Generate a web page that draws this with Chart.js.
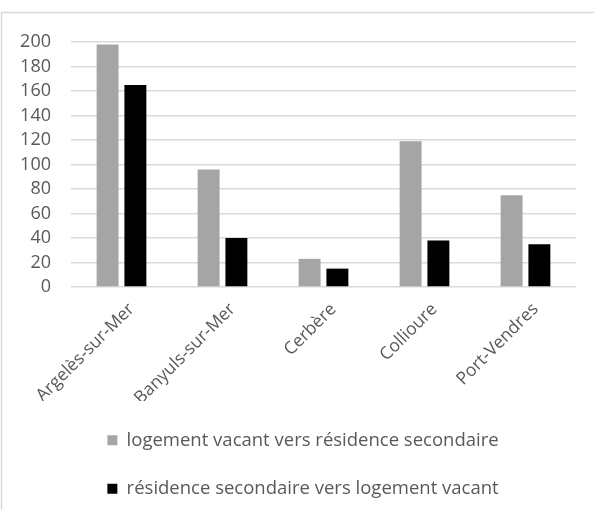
<!DOCTYPE html>
<html>
<head>
<meta charset="utf-8">
<script src="https://cdn.jsdelivr.net/npm/chart.js@4.4.1/dist/chart.umd.min.js"></script>
<style>
  html, body { margin: 0; padding: 0; background: #fff; }
  #wrap { position: relative; width: 594px; height: 510px; }
  canvas { display: block; }
</style>
</head>
<body>
<div id="wrap"><canvas id="c" width="594" height="510"></canvas></div>
<script>
// Communes and transition counts
const communes = ["Argelès-sur-Mer", "Banyuls-sur-Mer", "Cerbère", "Collioure", "Port-Vendres"];
const vacantToSecondary = [198, 96, 23, 119, 75];
const secondaryToVacant = [165, 40, 15, 38, 35];
const yTicks = [0, 20, 40, 60, 80, 100, 120, 140, 160, 180, 200];

const FONT = "'Open Sans', sans-serif";
const TEXT = "#595959";
const GRID = "#D9D9D9";
const Y_FONT = { family: FONT, size: 18 };

// Width of the widest y label, so the labels can sit right-aligned 20px left of the plot
const measureCtx = document.createElement("canvas").getContext("2d");
measureCtx.font = Y_FONT.size + "px " + FONT;
const widestY = Math.max(...yTicks.map(v => measureCtx.measureText(String(v)).width));

// Thin frame along the top and left edge of the chart object
const framePlugin = {
  id: "frame",
  beforeDraw(chart) {
    const ctx = chart.ctx;
    ctx.save();
    ctx.strokeStyle = GRID;
    ctx.lineWidth = 1.5;
    ctx.beginPath();
    ctx.moveTo(1.5, 510);
    ctx.lineTo(1.5, 12.5);
    ctx.lineTo(594, 12.5);
    ctx.stroke();
    ctx.restore();
  }
};

new Chart(document.getElementById("c"), {
  type: "bar",
  data: {
    labels: communes,
    datasets: [
      {
        label: "logement vacant vers résidence secondaire",
        data: vacantToSecondary,
        backgroundColor: "#A5A5A5",
        categoryPercentage: 0.55,
        barPercentage: 0.79
      },
      {
        label: "résidence secondaire vers logement vacant",
        data: secondaryToVacant,
        backgroundColor: "#000000",
        categoryPercentage: 0.55,
        barPercentage: 0.79
      }
    ]
  },
  options: {
    responsive: false,
    animation: false,
    devicePixelRatio: 1,
    layout: { padding: { left: 30, right: 18, top: 42, bottom: 2 } },
    plugins: {
      legend: {
        position: "bottom",
        labels: {
          boxWidth: 10,
          boxHeight: 10,
          padding: 30,
          color: TEXT,
          font: { family: FONT, size: 18.5 }
        }
      },
      tooltip: { enabled: false }
    },
    scales: {
      x: {
        afterFit(scale) { scale.height = 114; },
        grid: { display: false },
        border: { display: false },
        ticks: {
          color: TEXT,
          font: { family: FONT, size: 17.5 },
          maxRotation: 45,
          minRotation: 45,
          autoSkip: false,
          padding: 4,
          labelOffset: 10
        }
      },
      y: {
        min: 0,
        max: 200,
        afterBuildTicks(scale) {
          scale.ticks = yTicks.map(v => ({ value: v }));
        },
        afterFit(scale) { scale.width = 41; },
        grid: { color: GRID, lineWidth: 1.5, drawTicks: false },
        border: { display: false },
        ticks: {
          color: TEXT,
          font: Y_FONT,
          autoSkip: false,
          mirror: true,
          crossAlign: "far",
          padding: -20 - widestY
        }
      }
    }
  },
  plugins: [framePlugin]
});
</script>
</body>
</html>
